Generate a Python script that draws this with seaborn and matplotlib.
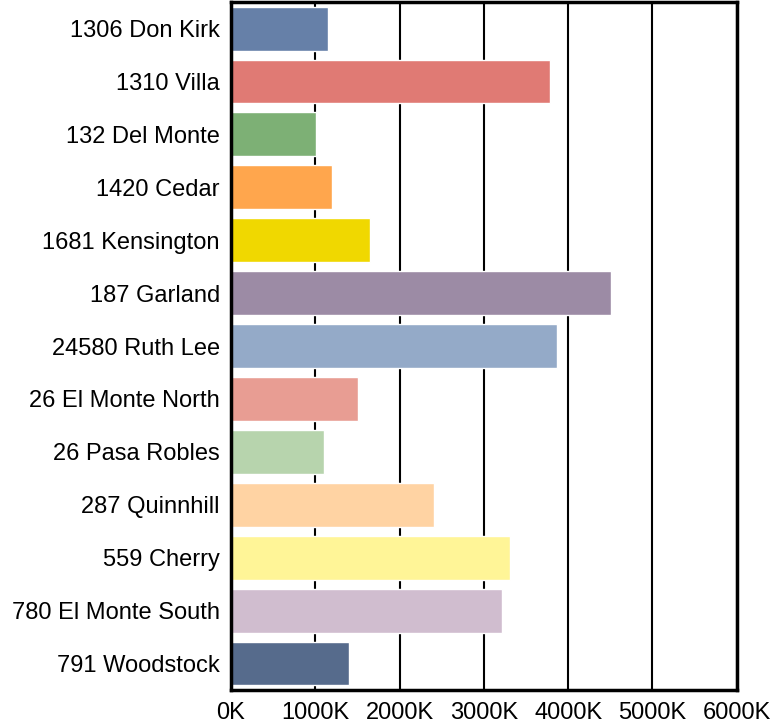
import numpy as np
import pandas as pd
import seaborn as sns
import matplotlib.pyplot as plt
from matplotlib.ticker import FuncFormatter

# data
streets = ['1306 Don Kirk', '1310 Villa', '132 Del Monte', '1420 Cedar', '1681 Kensington',
           '187 Garland', '24580 Ruth Lee', '26 El Monte North', '26 Pasa Robles',
           '287 Quinnhill', '559 Cherry', '780 El Monte South', '791 Woodstock']
values = [1150, 3785, 1010, 1200, 1650, 4510, 3870, 1510, 1100, 2410, 3310, 3215, 1405]  # thousands
colors = ['#6680a8', '#e07a74', '#7db075', '#ffa64d', '#f0d800', '#9c8ba5', '#94aac8',
          '#e89d93', '#b7d4ad', '#ffd3a3', '#fff597', '#d0bdcf', '#566b8c']

df = pd.DataFrame({'street': streets, 'value': values})

sns.set_style('white')
plt.rcParams['font.family'] = ['Liberation Sans', 'DejaVu Sans']

fig = plt.figure(figsize=(7.83, 7.26), dpi=100)
ax = fig.add_axes([0.295, 0.0496, 0.646, 0.9474])

sns.barplot(data=df, y='street', x='value', hue='street', palette=colors,
            legend=False, width=0.83, saturation=1, ax=ax)

ax.set_xlim(0, 6000)
ax.set_xticks(np.arange(0, 6001, 1000))
ax.xaxis.set_major_formatter(FuncFormatter(lambda v, p: f'{int(v)}K'))
ax.grid(axis='x', color='black', linewidth=1.5)
ax.set_axisbelow(True)
ax.set_xlabel('')
ax.set_ylabel('')
ax.tick_params(axis='both', length=0, labelsize=17, colors='black', pad=8)
ax.tick_params(axis='x', pad=9)
for s in ax.spines.values():
    s.set_visible(True)
    s.set_color('black')
    s.set_linewidth(2.5)

plt.savefig('out.png', dpi=100)
